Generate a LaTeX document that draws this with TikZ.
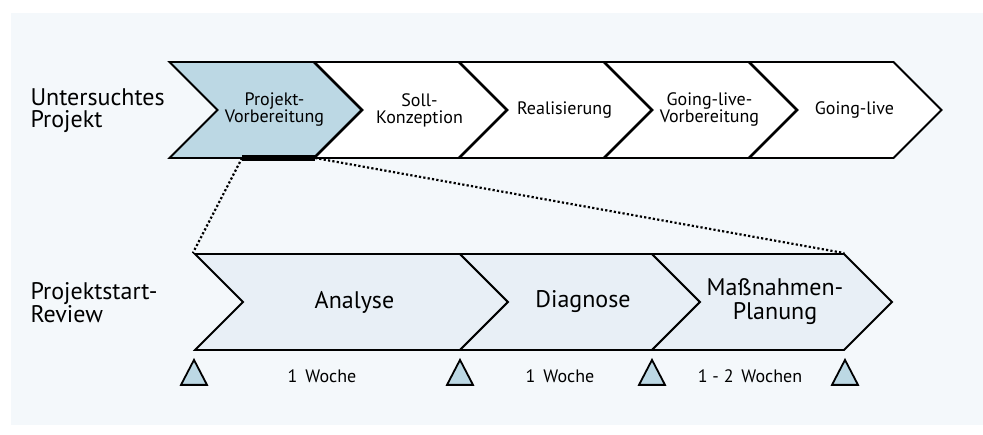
\documentclass[tikz,border=0pt]{standalone}
\usepackage{fontspec}
\setmainfont{PT Sans}
\usetikzlibrary{shapes.symbols,shapes.geometric}

\definecolor{panel}{HTML}{F4F8FB}
\definecolor{phaseblue}{HTML}{BCD8E4}
\definecolor{reviewfill}{HTML}{E8EFF6}

\begin{document}
\begin{tikzpicture}[
        x=1pt, y=-1pt,
        chevron/.style={
            signal, signal from=west, signal to=east,
            signal pointer angle=90,
            draw=black, line width=1.8pt,
            fill=white, inner sep=0pt,
            minimum height=96pt, minimum width=192pt
        },
        phase/.style={
            chevron,
            label={[align=center, xshift=9pt,
                font=\fontsize{18}{17}\selectfont]center:{#1}}
        },
        review/.style={
            chevron, fill=reviewfill,
            label={[align=center, xshift=3pt,
                font=\fontsize{24}{24}\selectfont]center:{#1}}
        },
        milestone/.style={
            isosceles triangle, isosceles triangle stretches,
            shape border rotate=90,
            draw=black, line width=1.8pt, fill=phaseblue,
            inner sep=0pt, minimum width=26pt, minimum height=25pt
        },
        rowlabel/.style={
            anchor=west, align=left,
            font=\fontsize{24}{22}\selectfont
        },
        dur/.style={font=\fontsize{18}{18}\selectfont}]

        % background panel and picture size
        \useasboundingbox (0,0) rectangle (983,435);
        \fill[panel] (11,13) rectangle (983,425);

        % upper row: the project phases
        \node[rowlabel] (lproj) at (27,111) {Untersuchtes\\Projekt};
        \node[phase={Projekt-\\Vorbereitung}, fill=phaseblue] (p1) at (265.5,110) {};
        \node[phase={Soll-\\Konzeption}] (p2) at (410.5,110) {};
        \node[phase={Realisierung}] (p3) at (555.5,110) {};
        \node[phase={Going-live-\\Vorbereitung}] (p4) at (700.5,110) {};
        \node[phase={Going-live}] (p5) at (845.5,110) {};

        % lower row: the review
        \node[rowlabel] (lrev) at (27,303) {Projektstart-\\Review};
        \node[review={Analyse}, minimum width=313pt] (r1) at (351.5,302) {};
        \node[review={Diagnose}, minimum width=240pt] (r2) at (580,302) {};
        \node[review={Maßnahmen-\\Planung}, minimum width=240pt] (r3) at (772,302) {};

        % milestones and durations
        \node[milestone] (m1) at (194,377) {};
        \node[milestone] (m2) at (460,377) {};
        \node[milestone] (m3) at (652,377) {};
        \node[milestone] (m4) at (845,377) {};
        \node[dur] at (322,376) {1 \,Woche};
        \node[dur] at (560,376) {1 \,Woche};
        \node[dur] at (750,376) {1 - 2 \,Wochen};

        % zoom from the first phase
        \coordinate (barL) at (242,158);
        \coordinate (barR) at (315,158);
        \draw[line width=5.5pt] (barL) -- (barR);
        \draw[line width=2.2pt, dash pattern=on 2.2pt off 2.2pt]
            (barL) -- (r1.north west);
        \draw[line width=2.2pt, dash pattern=on 2.2pt off 2.2pt]
            (barR) -- (r3.north east);
\end{tikzpicture}
\end{document}
